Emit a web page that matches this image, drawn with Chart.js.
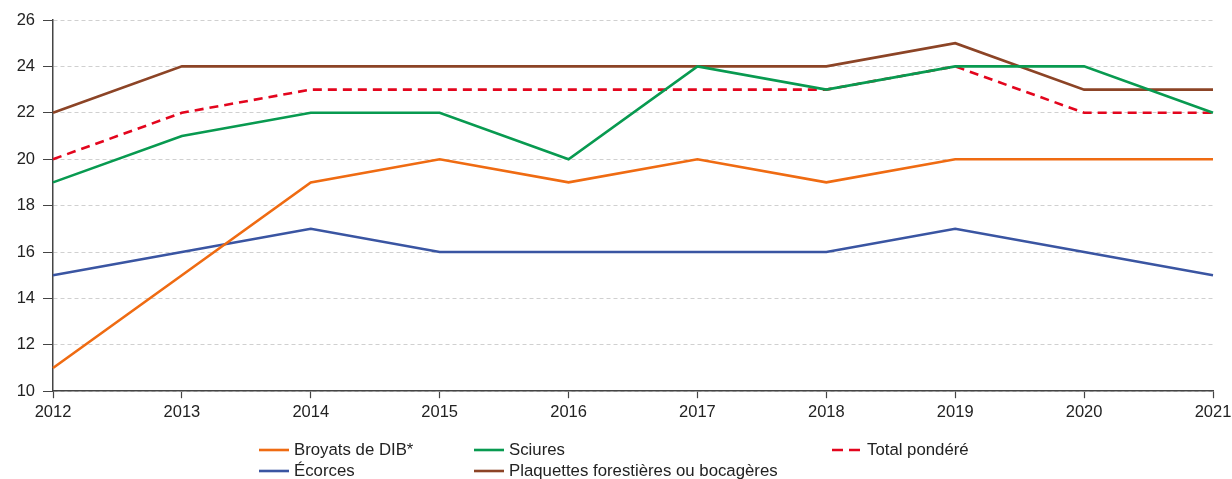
<!DOCTYPE html>
<html><head><meta charset="utf-8">
<script src="https://cdn.jsdelivr.net/npm/chart.js@4.4.0/dist/chart.umd.min.js"></script>
<style>
html,body{margin:0;padding:0;background:#fff;}
#wrap{position:relative;width:1232px;height:479px;}
canvas{position:absolute;left:0;top:0;}
.lg{position:absolute;font-family:"Liberation Sans",Arial,sans-serif;font-size:16.8px;color:#222;white-space:nowrap;line-height:20px;}
.lg canvas{position:static;display:inline-block;vertical-align:middle;margin-right:5px;margin-top:-2px;}
</style></head>
<body><div id="wrap"><canvas id="c" width="1232" height="479"></canvas><div id="legend"></div></div>
<script>
const years = ["2012","2013","2014","2015","2016","2017","2018","2019","2020","2021"];
const broyats = [11,15,19,20,19,20,19,20,20,20];
const sciures = [19,21,22,22,20,24,23,24,24,22];
const total = [20,22,23,23,23,23,23,24,22,22];
const ecorces = [15,16,17,16,16,16,16,17,16,15];
const plaquettes = [22,24,24,24,24,24,24,25,23,23];
const yTicks = [10,12,14,16,18,20,22,24,26];

const series = [
  {label:"Broyats de DIB*", data:broyats, color:"#ef6b12", dash:[], lx:259, ly:440},
  {label:"Sciures", data:sciures, color:"#089a50", dash:[], lx:474, ly:440},
  {label:"Total pondéré", data:total, color:"#e3051d", dash:[9,6], lx:832, ly:440},
  {label:"Écorces", data:ecorces, color:"#3a55a2", dash:[], lx:259, ly:461},
  {label:"Plaquettes forestières ou bocagères", data:plaquettes, color:"#8c4426", dash:[], lx:474, ly:461}
];
const ds = series.map((s,i)=>({label:s.label,data:s.data,borderColor:s.color,backgroundColor:s.color,borderWidth:2.6,borderDash:s.dash,pointRadius:0,tension:0,order:i}));
const font = {family:"'Liberation Sans', Arial, sans-serif",size:16.5};

new Chart(document.getElementById('c'),{
  type:'line',
  data:{labels:years,datasets:ds},
  options:{
    responsive:false,animation:false,
    layout:{padding:{left:0,right:19,top:20,bottom:53}},
    plugins:{legend:{display:false},tooltip:{enabled:false}},
    scales:{
      x:{
        afterFit:(ax)=>{ax.paddingRight=0;ax.paddingLeft=0;},
        grid:{drawOnChartArea:false,drawTicks:true,tickLength:7,tickColor:"#444",tickWidth:1.2},
        border:{color:"#444",width:1.5},
        ticks:{color:"#222",font:font,padding:4,maxRotation:0,autoSkip:false}
      },
      y:{
        min:10,max:26,
        afterBuildTicks:(ax)=>{ax.ticks=yTicks.map(v=>({value:v}));},
        afterFit:(ax)=>{ax.width=53;},
        grid:{color:"#d0d0d0",lineWidth:1,tickLength:10,tickColor:"#444",tickWidth:1.2,tickBorderDash:[1,0]},
        border:{color:"#444",width:1.5,dash:[4,3]},
        ticks:{color:"#222",font:font,padding:8}
      }
    }
  }
});

const lg=document.getElementById('legend');
series.forEach(s=>{
  const d=document.createElement('div');d.className='lg';d.style.left=s.lx+'px';d.style.top=s.ly+'px';
  const cv=document.createElement('canvas');cv.width=30;cv.height=6;
  const x=cv.getContext('2d');x.strokeStyle=s.color;x.lineWidth=2.6;x.setLineDash(s.dash.length?[11,6]:[]);x.beginPath();x.moveTo(0,3);x.lineTo(30,3);x.stroke();
  d.appendChild(cv);d.appendChild(document.createTextNode(s.label));lg.appendChild(d);
});
</script></body></html>
